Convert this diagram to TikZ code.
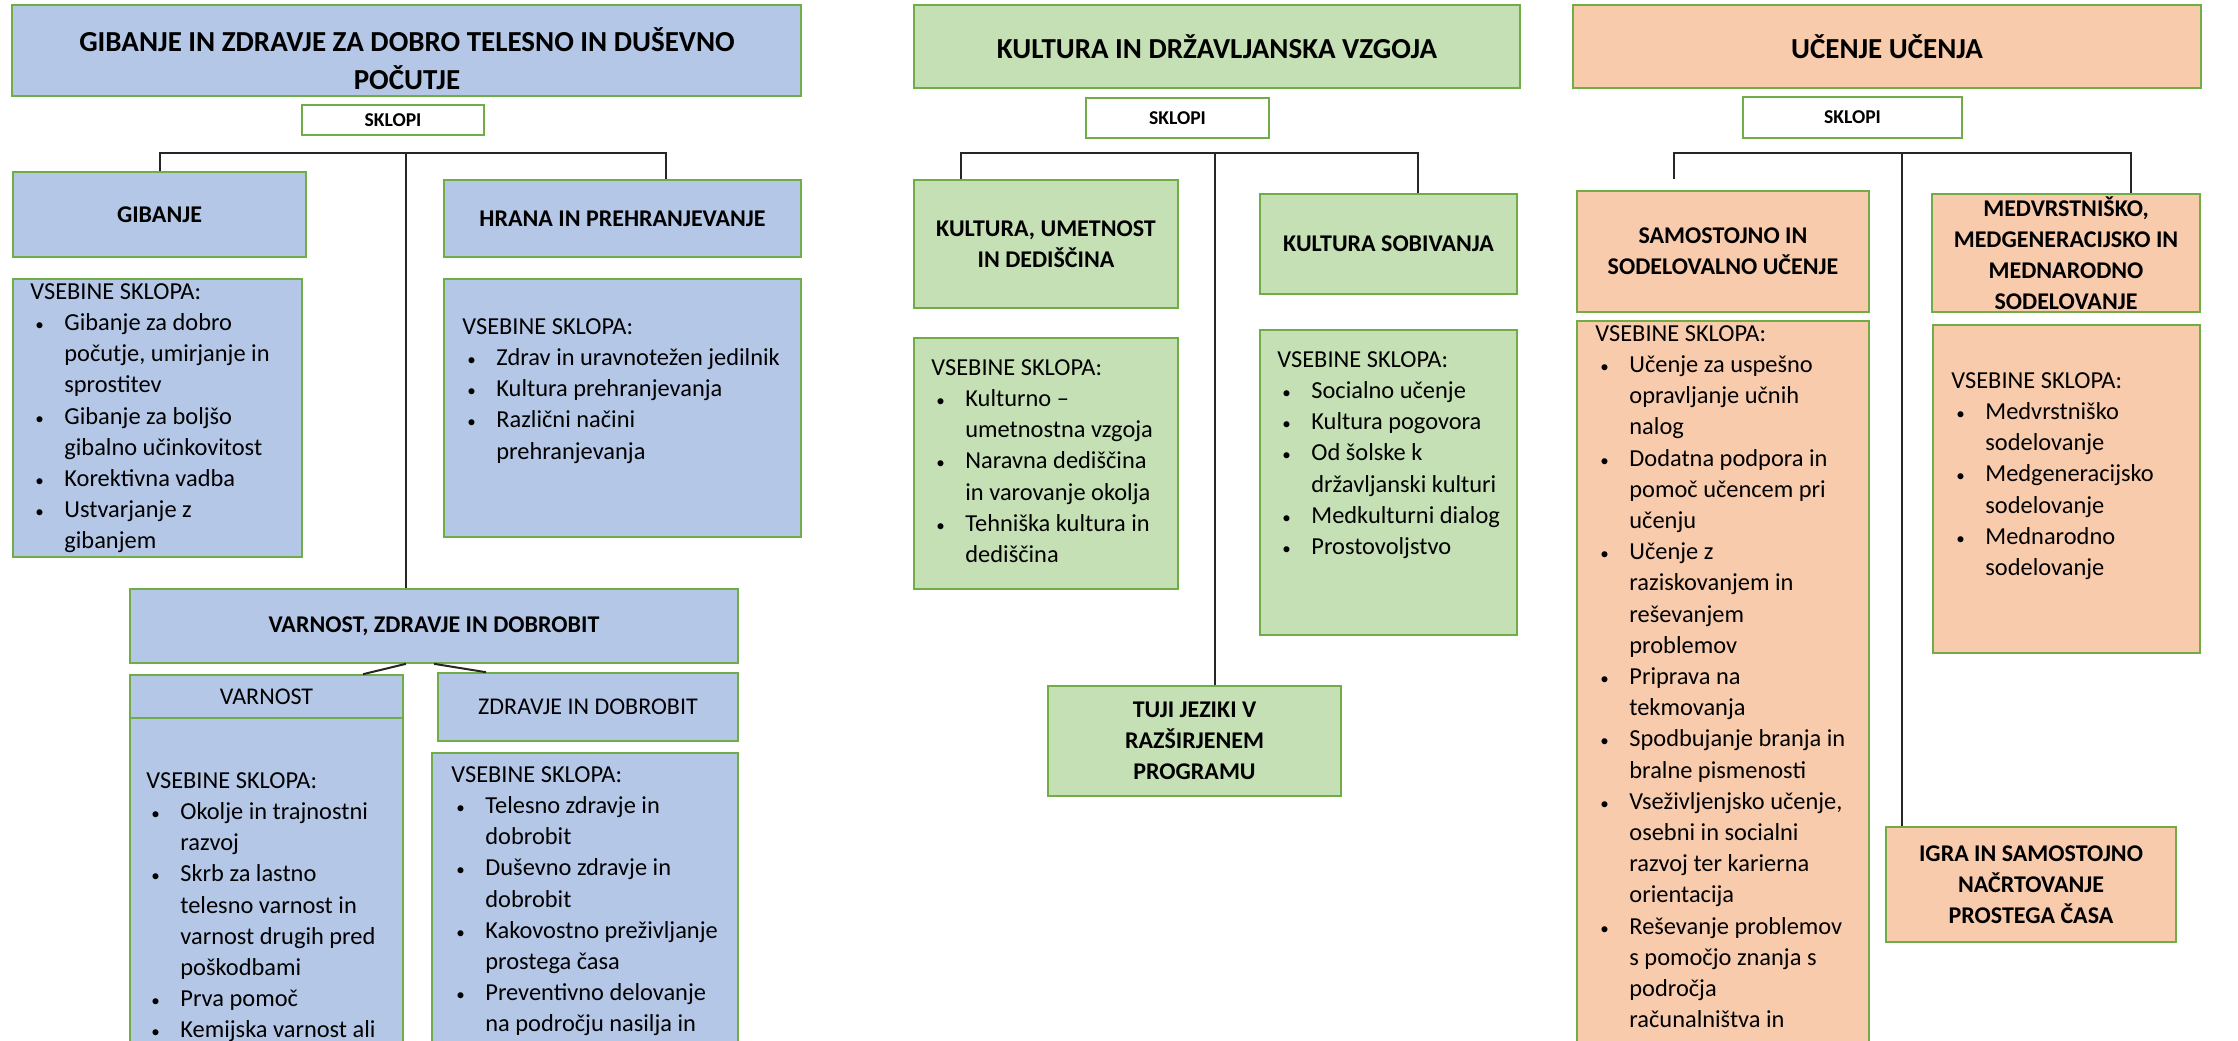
\documentclass[tikz,border=0pt]{standalone}
\usepackage{fontspec}
\setmainfont{Carlito}
\usetikzlibrary{fit}
\definecolor{boxblue}{HTML}{B4C7E7}
\definecolor{boxgreen}{HTML}{C5E0B4}
\definecolor{boxpeach}{HTML}{F8CBAD}
\definecolor{edgegreen}{HTML}{70AD47}
\definecolor{linegray}{HTML}{262626}
\newcommand{\bul}[1]{\makebox[17pt][l]{\hspace{2.5pt}{\fontsize{8.5}{8.5}\selectfont\textbullet}}#1}
\newcommand{\cnt}[1]{\hspace*{17pt}#1}
\tikzset{
  box/.style={draw=edgegreen, line width=0.8pt, inner sep=0pt, align=center},
  gibbox/.style={box, fill=boxblue},
  kulbox/.style={box, fill=boxgreen},
  ucbox/.style={box, fill=boxpeach},
  sklbox/.style={box, fill=white, font=\bfseries\fontsize{9.8}{11}\selectfont},
  ttl/.style={font=\bfseries\fontsize{14.5}{19}\selectfont},
  hdr/.style={font=\bfseries\fontsize{12}{15.5}\selectfont},
  hdrn/.style={font=\fontsize{12}{15.5}\selectfont},
  body/.style={anchor=north west, inner sep=0pt, align=left, font=\fontsize{12.2}{15.6}\selectfont},
  conn/.style={draw=linegray, line width=1pt},
}
\begin{document}
\begin{tikzpicture}[x=0.5pt, y=-0.5pt]
\useasboundingbox (0,0) rectangle (2238,1040);
\fill[white] (0,0) rectangle (2238,1040);
\clip (0,0) rectangle (2238,1040);

% gibanje in zdravje
\node[gibbox, fit={(12,5) (801,96)}] (ttlgib) {};
\node[ttl, align=center] (ttlgibtxt) at (407,59) {GIBANJE IN ZDRAVJE ZA DOBRO TELESNO IN DUŠEVNO\\POČUTJE};
\node[sklbox, minimum width=91pt, minimum height=15pt] (sklgib) at (393,120) {SKLOPI};
\node[gibbox, hdr, minimum width=146.5pt, minimum height=42.5pt] (gibanje) at (159.5,214.5) {GIBANJE};
\node[gibbox, hdr, minimum width=178.5pt, minimum height=38.5pt] (hrana) at (622.5,218.5) {HRANA IN PREHRANJEVANJE};
\node[gibbox, fit={(13,279) (302,557)}] (gibbody) {};
\node[gibbox, fit={(444,279) (801,537)}] (hrabody) {};
\node[gibbox, hdr, minimum width=304pt, minimum height=37pt] (vzd) at (434,626) {VARNOST, ZDRAVJE IN DOBROBIT};
\node[gibbox, hdrn, minimum width=136.5pt, minimum height=21.5pt] (varn) at (266.5,696.5) {VARNOST};
\node[gibbox, fit={(130,718) (403,1060)}] (varbody) {};
\node[gibbox, hdrn, minimum width=150pt, minimum height=34pt] (zdr) at (588,707) {ZDRAVJE IN DOBROBIT};
\node[gibbox, fit={(432,753) (738,1060)}] (zdrbody) {};

\node[body] (gibtxt) at (30,283) {VSEBINE SKLOPA:\\\bul{Gibanje za dobro}\\\cnt{počutje, umirjanje in}\\\cnt{sprostitev}\\\bul{Gibanje za boljšo}\\\cnt{gibalno učinkovitost}\\\bul{Korektivna vadba}\\\bul{Ustvarjanje z}\\\cnt{gibanjem}};
\node[body] (hratxt) at (462,318) {VSEBINE SKLOPA:\\\bul{Zdrav in uravnotežen jedilnik}\\\bul{Kultura prehranjevanja}\\\bul{Različni načini}\\\cnt{prehranjevanja}};
\node[body] (vartxt) at (146,772) {VSEBINE SKLOPA:\\\bul{Okolje in trajnostni}\\\cnt{razvoj}\\\bul{Skrb za lastno}\\\cnt{telesno varnost in}\\\cnt{varnost drugih pred}\\\cnt{poškodbami}\\\bul{Prva pomoč}\\\bul{Kemijska varnost ali}};
\node[body] (zdrtxt) at (451,766) {VSEBINE SKLOPA:\\\bul{Telesno zdravje in}\\\cnt{dobrobit}\\\bul{Duševno zdravje in}\\\cnt{dobrobit}\\\bul{Kakovostno preživljanje}\\\cnt{prostega časa}\\\bul{Preventivno delovanje}\\\cnt{na področju nasilja in}};

\coordinate (jgib) at (406,153);
\draw[conn] (gibanje.north) |- (jgib) -| ([xshift=21.5pt]hrana.north);
\draw[conn] (jgib) -- (jgib |- vzd.north);
\draw[conn] ([xshift=-14pt]vzd.south) -- ([xshift=48.25pt]varn.north);
\draw[conn] (vzd.south) -- ([xshift=-51pt]zdr.north);

% kultura in drzavljanska vzgoja
\node[kulbox, ttl, minimum width=303pt, minimum height=41.5pt] (ttlkul) at (1217,46.5) {KULTURA IN DRŽAVLJANSKA VZGOJA};
\node[sklbox, minimum width=91.5pt, minimum height=20pt] (sklkul) at (1177.5,118) {SKLOPI};
\node[kulbox, hdr, minimum width=132pt, minimum height=64pt] (kum) at (1046,244) {KULTURA, UMETNOST\\IN DEDIŠČINA};
\node[kulbox, hdr, minimum width=128.5pt, minimum height=50pt] (ksob) at (1388.5,244) {KULTURA SOBIVANJA};
\node[kulbox, fit={(914,338) (1178,589)}] (kubody) {};
\node[kulbox, fit={(1260,330) (1517,635)}] (ksbody) {};
\node[kulbox, hdr, minimum width=146.5pt, minimum height=55pt] (tuji) at (1194.5,741) {TUJI JEZIKI V\\RAZŠIRJENEM\\PROGRAMU};

\node[body] (kutxt) at (931,359) {VSEBINE SKLOPA:\\\bul{Kulturno --}\\\cnt{umetnostna vzgoja}\\\bul{Naravna dediščina}\\\cnt{in varovanje okolja}\\\bul{Tehniška kultura in}\\\cnt{dediščina}};
\node[body] (kstxt) at (1277,351) {VSEBINE SKLOPA:\\\bul{Socialno učenje}\\\bul{Kultura pogovora}\\\bul{Od šolske k}\\\cnt{državljanski kulturi}\\\bul{Medkulturni dialog}\\\bul{Prostovoljstvo}};

\coordinate (jkul) at (1215,153);
\draw[conn] ([xshift=-42.5pt]kum.north) |- (jkul) -| ([xshift=14.75pt]ksob.north);
\draw[conn] (jkul) -- (jkul |- tuji.north);

% ucenje ucenja
\node[ucbox, ttl, minimum width=314pt, minimum height=41.5pt] (ttluc) at (1887,46.5) {UČENJE UČENJA};
\node[sklbox, minimum width=109.5pt, minimum height=20.5pt] (skluc) at (1852.5,117.5) {SKLOPI};
\node[ucbox, hdr, minimum width=146pt, minimum height=60.5pt] (sam) at (1723,251.5) {SAMOSTOJNO IN\\SODELOVALNO UČENJE};
\node[ucbox, hdr, minimum width=134pt, minimum height=59pt] (med) at (2066,253) {MEDVRSTNIŠKO,\\MEDGENERACIJSKO IN\\MEDNARODNO\\SODELOVANJE};
\node[ucbox, fit={(1577,321) (1869,1060)}] (sambody) {};
\node[ucbox, fit={(1933,325) (2200,653)}] (medbody) {};
\node[ucbox, hdr, minimum width=145pt, minimum height=57.5pt] (igra) at (2031,884.5) {IGRA IN SAMOSTOJNO\\NAČRTOVANJE\\PROSTEGA ČASA};

\node[body] (samtxt) at (1595,325) {VSEBINE SKLOPA:\\\bul{Učenje za uspešno}\\\cnt{opravljanje učnih}\\\cnt{nalog}\\\bul{Dodatna podpora in}\\\cnt{pomoč učencem pri}\\\cnt{učenju}\\\bul{Učenje z}\\\cnt{raziskovanjem in}\\\cnt{reševanjem}\\\cnt{problemov}\\\bul{Priprava na}\\\cnt{tekmovanja}\\\bul{Spodbujanje branja in}\\\cnt{bralne pismenosti}\\\bul{Vseživljenjsko učenje,}\\\cnt{osebni in socialni}\\\cnt{razvoj ter karierna}\\\cnt{orientacija}\\\bul{Reševanje problemov}\\\cnt{s pomočjo znanja s}\\\cnt{področja}\\\cnt{računalništva in}};
\node[body] (medtxt) at (1951,372) {VSEBINE SKLOPA:\\\bul{Medvrstniško}\\\cnt{sodelovanje}\\\bul{Medgeneracijsko}\\\cnt{sodelovanje}\\\bul{Mednarodno}\\\cnt{sodelovanje}};

\coordinate (juc) at (1902,153);
\draw[conn, shorten <=5.5pt] ([xshift=-24.5pt]sam.north) |- (juc) -| ([xshift=32.5pt]med.north);
\draw[conn] (juc) -- (juc |- igra.north);
\end{tikzpicture}
\end{document}
